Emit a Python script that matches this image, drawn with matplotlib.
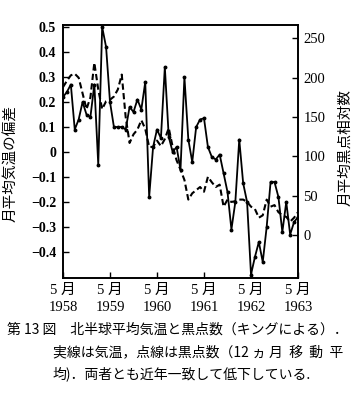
import matplotlib
matplotlib.use("Agg")
import matplotlib.pyplot as plt
import numpy as np

# ---- data (monthly, May 1958 .. May 1963) ----
temp_dev = [0.22, 0.24, 0.27, 0.09, 0.13, 0.20, 0.15, 0.14, 0.27, -0.05,
            0.50, 0.42, 0.20, 0.10, 0.10, 0.10, 0.09, 0.18, 0.16, 0.21,
            0.17, 0.28, -0.18, 0.02, 0.09, 0.055, 0.34, 0.06, 0.00, 0.02,
            -0.07, 0.30, 0.05, -0.04, 0.10, 0.13, 0.135, 0.02, -0.02, -0.03,
            -0.01, -0.085, -0.16, -0.31, -0.20, 0.05, -0.125, -0.20, -0.49, -0.42,
            -0.36, -0.44, -0.30, -0.12, -0.12, -0.18, -0.32, -0.20, -0.33, -0.28,
            -0.26]
sunspot = [188, 196, 203, 205, 200, 180, 160, 175, 219, 185,
           160, 170, 172, 176, 185, 204, 150, 117, 128, 134,
           146, 135, 112, 112, 120, 113, 122, 136, 112, 95,
           83, 70, 45, 53, 57, 61, 55, 74, 67, 61,
           64, 36, 45, 42, 43, 45, 45, 42, 36, 33,
           22, 25, 45, 36, 38, 29, 25, 23, 17, 22,
           29]
year_labels = ["1958", "1959", "1960", "1961", "1962", "1963"]
left_ticks = [0.5, 0.4, 0.3, 0.2, 0.1, 0, -0.1, -0.2, -0.3, -0.4]
left_ticklabels = ["0.5", "0.4", "0.3", "0.2", "0.1", "0", "\u22120.1", "\u22120.2", "\u22120.3", "\u22120.4"]
right_ticks = [0, 50, 100, 150, 200, 250]

caption1 = "第 13 図　北半球平均気温と黒点数（キングによる）．"
caption2 = "実線は気温，点線は黒点数（12 ヵ 月  移  動  平"
caption3 = "均)．両者とも近年一致して低下している."

W, H = 358, 394
fig = plt.figure(figsize=(W / 100, H / 100), dpi=100)
fig.patch.set_facecolor("white")

ax = fig.add_axes([63 / W, 1 - 278 / H, (298 - 63) / W, (278 - 25) / H])
months = np.arange(len(temp_dev))
ax.plot(months, temp_dev, color="black", lw=1.3, marker="o", ms=1.8, zorder=3)
ax.set_xlim(0, 60)
ax.set_ylim(-0.504, 0.508)
ax.set_yticks(left_ticks)
ax.set_yticklabels(left_ticklabels, family=["Liberation Serif"], fontweight="bold", fontsize=10)
ax.tick_params(axis="y", direction="in", length=4, width=1, pad=5)
ax.set_xticks(np.arange(0, 61, 12))
ax.set_xticklabels(["5 月\n" + y for y in year_labels],
                   family=["Liberation Serif", "Noto Sans CJK JP"], fontsize=10.5, linespacing=1.45)
ax.tick_params(axis="x", direction="in", length=4, width=1, pad=4)
for s in ax.spines.values():
    s.set_linewidth(1.2)

ax2 = ax.twinx()
ax2.plot(months, sunspot, color="black", lw=1.5, ls=(0, (3, 1.6)), zorder=2)
ax2.set_ylim(-54.7, 267)
ax2.set_yticks(right_ticks)
ax2.set_yticklabels([str(t) for t in right_ticks], family=["Liberation Serif"], fontsize=10.5)
ax2.tick_params(axis="y", direction="in", length=4, width=1, pad=4)
for s in ax2.spines.values():
    s.set_linewidth(1.2)

jp = ["Noto Sans CJK JP"]
fig.text(11 / W, 1 - 163 / H, "月平均気温の偏差", rotation=90, ha="center", va="center",
         family=jp, fontsize=10.5)
fig.text(345 / W, 1 - 148 / H, "月平均黒点相対数", rotation=90, ha="center", va="center",
         family=jp, fontsize=10.5)

fig.text(7 / W, 1 - 330 / H, caption1, ha="left", va="center", family=jp, fontsize=10)
fig.text(53 / W, 1 - 352 / H, caption2, ha="left", va="center", family=jp, fontsize=10)
fig.text(53 / W, 1 - 374 / H, caption3, ha="left", va="center", family=jp, fontsize=10)

fig.savefig("out.png", dpi=100)
